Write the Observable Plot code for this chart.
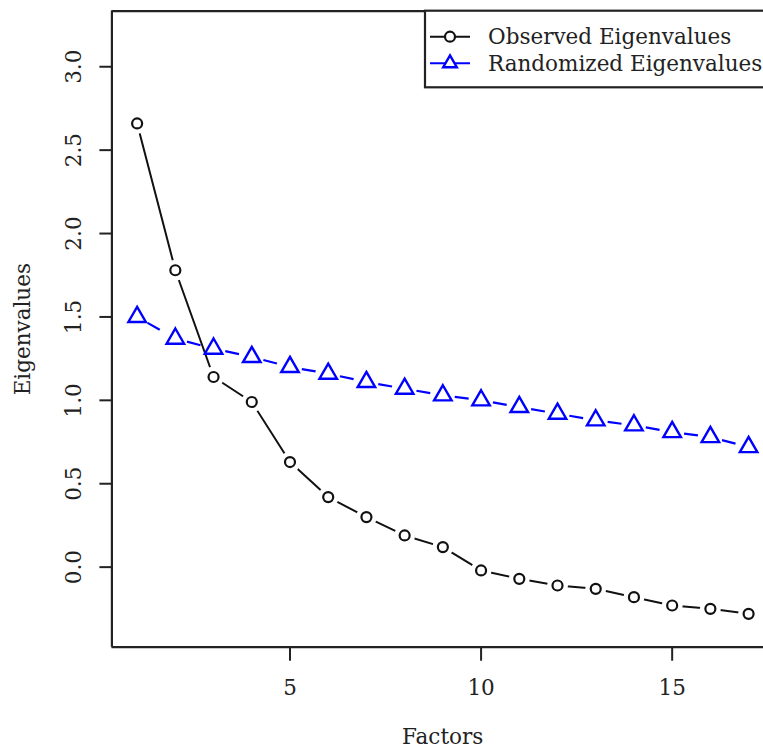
<!DOCTYPE html>
<html>
<head>
<meta charset="utf-8">
<script src="https://cdn.jsdelivr.net/npm/d3@7"></script>
<script src="https://cdn.jsdelivr.net/npm/@observablehq/plot@0.6"></script>
<style>
  html, body { margin: 0; padding: 0; background: #fff; }
</style>
</head>
<body>
<div id="chart"></div>
<script>
const factors = [1, 2, 3, 4, 5, 6, 7, 8, 9, 10, 11, 12, 13, 14, 15, 16, 17];
const observed = [2.66, 1.78, 1.14, 0.99, 0.63, 0.42, 0.30, 0.19, 0.12, -0.02, -0.07, -0.11, -0.13, -0.18, -0.23, -0.25, -0.28];
const randomized = [1.50, 1.37, 1.31, 1.26, 1.20, 1.16, 1.11, 1.07, 1.03, 1.00, 0.96, 0.92, 0.88, 0.85, 0.81, 0.78, 0.72];
const xTicks = [5, 10, 15];
const yTicks = [0.0, 0.5, 1.0, 1.5, 2.0, 2.5, 3.0];
const seriesNames = ["Observed Eigenvalues", "Randomized Eigenvalues"];
const xLabel = "Factors";
const yLabel = "Eigenvalues";

const obsData = factors.map((f, i) => ({f, v: observed[i]}));
const randData = factors.map((f, i) => ({f, v: randomized[i]}));
const randLinks = factors.slice(0, -1).map((f, i) => ({x1: f, y1: randomized[i], x2: factors[i + 1], y2: randomized[i + 1]}));

const xDomain = [0.34, 17.39];
const yDomain = [-0.48, 3.333];
const FONT = "DejaVu Serif";
const FS = 21.5;
const frameColor = "#222";

const plot = Plot.plot({
  width: 763,
  height: 749,
  marginLeft: 111.4,
  marginRight: 0,
  marginTop: 10.7,
  marginBottom: 102.3,
  style: {fontFamily: FONT, fontSize: FS + "px", background: "#fff", color: frameColor},
  x: {domain: xDomain, axis: null},
  y: {domain: yDomain, axis: null},
  marks: [
    // observed (type "b": line with gaps around points)
    Plot.line(obsData, {x: "f", y: "v", stroke: "#111", strokeWidth: 2}),
    Plot.dot(obsData, {x: "f", y: "v", r: 10.5, fill: "#fff", stroke: null}),
    Plot.dot(obsData, {x: "f", y: "v", r: 5, stroke: "#111", strokeWidth: 2.2, fill: "none"}),
    // randomized (dashed segments, each restarting the dash pattern)
    Plot.link(randLinks, {x1: "x1", y1: "y1", x2: "x2", y2: "y2", stroke: "#0000ff", strokeWidth: 2.2, strokeDasharray: "0,12,14,1000"}),
    Plot.dot(randData, {x: "f", y: "v", symbol: "triangle", r: 6.5, stroke: "#0000ff", strokeWidth: 2.4, fill: "none"}),
    // axes
    Plot.axisX(xTicks, {tickSize: 14, tickPadding: 19, fontSize: FS, stroke: frameColor, strokeWidth: 2, fill: frameColor, label: null}),
    Plot.axisY(yTicks, {tickSize: 12, tickFormat: () => "", stroke: frameColor, strokeWidth: 2, label: null}),
    Plot.text(yTicks, {y: d => d, text: d => d.toFixed(1), frameAnchor: "left", dx: -38, rotate: -90, textAnchor: "middle", lineAnchor: "middle", fontSize: FS, fill: frameColor}),
    // axis titles
    Plot.text([yLabel], {frameAnchor: "left", dx: -89, rotate: -90, textAnchor: "middle", lineAnchor: "middle", fontSize: FS, fill: frameColor}),
    Plot.text([xLabel], {frameAnchor: "bottom", dx: 5, dy: 90, textAnchor: "middle", lineAnchor: "middle", fontSize: FS, fill: frameColor}),
    // box (right side falls outside the picture)
    Plot.ruleX([xDomain[0]], {stroke: frameColor, strokeWidth: 2.2}),
    Plot.ruleY([yDomain[0], yDomain[1]], {stroke: frameColor, strokeWidth: 2.2})
  ]
});

// legend (R-style box, top right)
const svg = d3.select(plot);
const lg = svg.append("g").attr("font-family", FONT).attr("font-size", FS).attr("text-anchor", "start");
lg.append("rect").attr("x", 425).attr("y", 10.7).attr("width", 360).attr("height", 76.6)
  .attr("fill", "#fff").attr("stroke", frameColor).attr("stroke-width", 2.2);
const rows = [
  {name: seriesNames[0], color: "#111", sym: "circle", y: 36.7},
  {name: seriesNames[1], color: "#0000ff", sym: "triangle", y: 63.3}
];
rows.forEach(r => {
  lg.append("line").attr("x1", 430).attr("x2", 470).attr("y1", r.y).attr("y2", r.y)
    .attr("stroke", r.color).attr("stroke-width", 2);
  if (r.sym === "circle") {
    lg.append("circle").attr("cx", 450).attr("cy", r.y).attr("r", 5)
      .attr("fill", "#fff").attr("stroke", r.color).attr("stroke-width", 2.2);
  } else {
    lg.append("path").attr("d", d3.symbol(d3.symbolTriangle2, Math.PI * 6.5 * 6.5)())
      .attr("transform", `translate(450,${r.y})`)
      .attr("fill", "#fff").attr("stroke", r.color).attr("stroke-width", 2.4);
  }
  lg.append("text").attr("x", 488).attr("y", r.y).attr("dy", "0.35em")
    .attr("text-anchor", "start").attr("fill", frameColor).text(r.name);
});

document.getElementById("chart").appendChild(plot);
</script>
</body>
</html>
